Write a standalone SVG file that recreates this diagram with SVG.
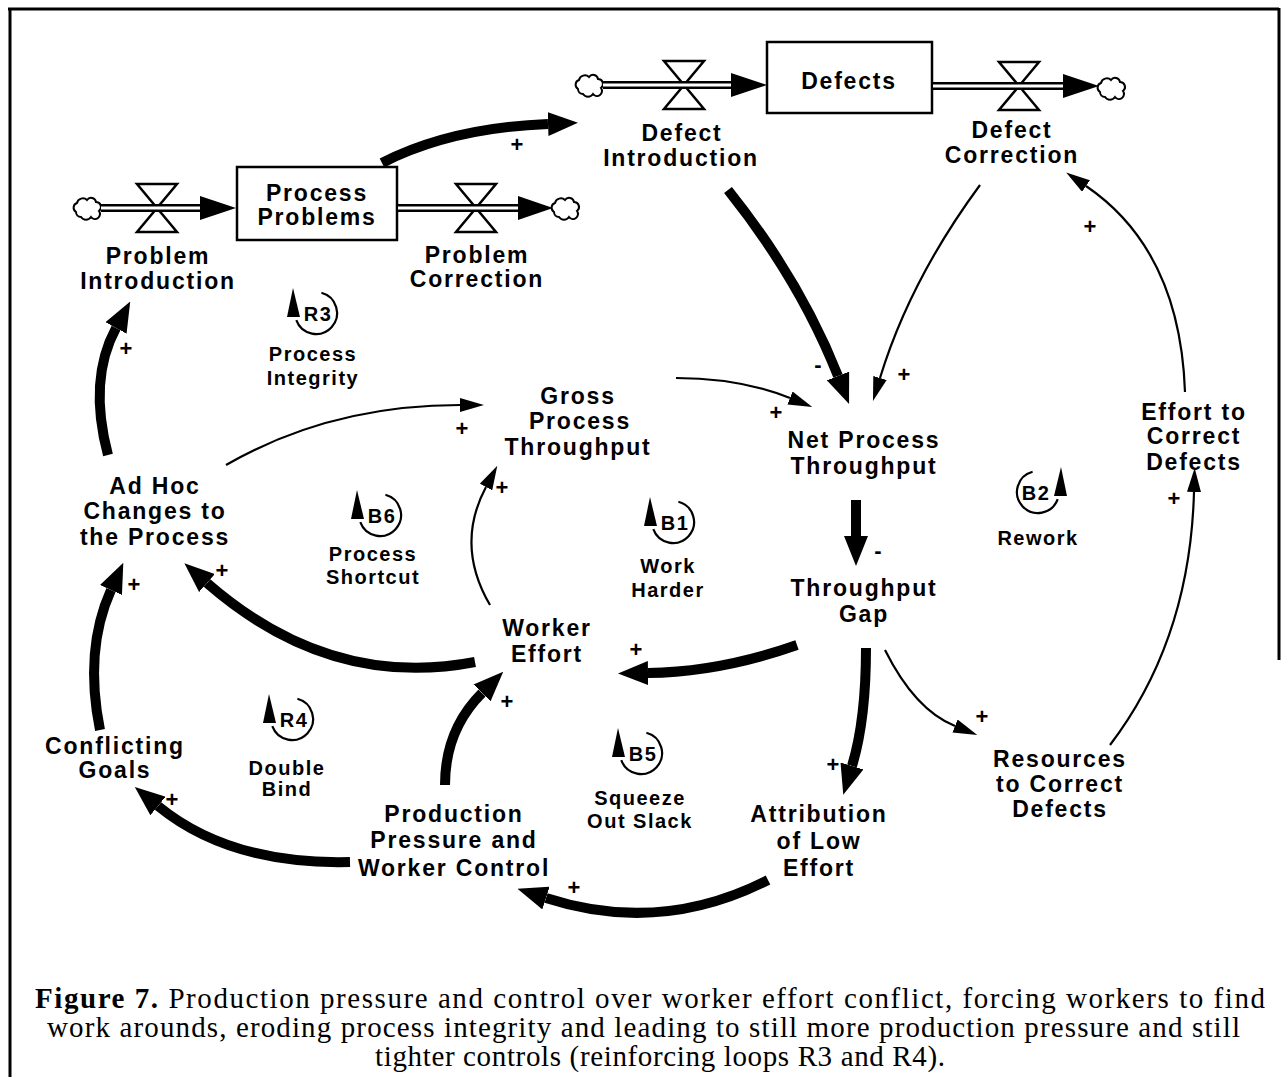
<svg xmlns="http://www.w3.org/2000/svg" width="1281" height="1077" viewBox="0 0 1281 1077">
<defs>
<style>
.n{font-family:"Liberation Sans",Arial,Helvetica,sans-serif;font-weight:bold;font-size:23px;text-anchor:middle;fill:#000;letter-spacing:1.8px}
.lp{font-size:20px;letter-spacing:1.5px}
.sg{font-family:"Liberation Sans",Arial,sans-serif;font-weight:bold;font-size:22px;text-anchor:middle;fill:#000}
.cap{font-family:"Liberation Serif","Times New Roman",serif;font-size:29px;fill:#000}
.thick{fill:none;stroke:#000;stroke-width:10}
.thin{fill:none;stroke:#000;stroke-width:2.2}
.pipeo{fill:none;stroke:#000;stroke-width:8}
.pipei{fill:none;stroke:#fff;stroke-width:3}
.valve{fill:#fff;stroke:#000;stroke-width:2.5}
.box{fill:#fff;stroke:#000;stroke-width:2.5}
.cloud{fill:#fff;stroke:#000;stroke-width:2}
.border{fill:none;stroke:#000;stroke-width:3}
.lc{fill:none;stroke:#000;stroke-width:2.2}
</style>
<marker id="ahT" markerUnits="userSpaceOnUse" viewBox="0 0 30 24" markerWidth="30" markerHeight="24" refX="0" refY="12" orient="auto"><path d="M0,0 L30,12 L0,24 z" fill="#000"/></marker>
<marker id="ahS" markerUnits="userSpaceOnUse" viewBox="0 0 24 14" markerWidth="24" markerHeight="14" refX="0" refY="7" orient="auto"><path d="M0,0 L24,7 L0,14 z" fill="#000"/></marker>
<path id="cloud" class="cloud" d="M-12,4 a5,5 0 0 1 1,-9 a6,6 0 0 1 10,-3 a5,5 0 0 1 9,2 a5,5 0 0 1 3,9 a5,5 0 0 1 -8,6 a6,6 0 0 1 -10,0 a5,5 0 0 1 -5,-5 z"/>
<polygon id="valve" class="valve" points="-20,-24 20,-24 -20,24 20,24"/>
<g id="loop"><path class="lc" d="M5.4,-20.3 A21,21 0 1 1 -19.7,7.2"/><polygon points="-23,-25 -29,4 -16,4" fill="#000"/></g>
</defs>

<g id="frame">
<line class="border" x1="10" y1="8" x2="10" y2="1077"/>
<line class="border" x1="8" y1="9" x2="1279" y2="9"/>
<line class="border" x1="1279" y1="8" x2="1279" y2="660"/>
</g>

<g id="connectors">
<path class="thick" d="M382,163 Q450,128 548,124" marker-end="url(#ahT)"/>
<path class="thick" d="M728,190 Q800,280 838,376" marker-end="url(#ahT)"/>
<path class="thin" d="M980,185 Q910,280 880,378" marker-end="url(#ahS)"/>
<path class="thin" d="M676,378 Q740,378 790,398" marker-end="url(#ahS)"/>
<path class="thin" d="M226,465 Q330,405 460,405" marker-end="url(#ahS)"/>
<path class="thick" d="M108,455 Q88,380 116,328" marker-end="url(#ahT)"/>
<path class="thick" d="M856,500 L856,536" stroke-width="12" marker-end="url(#ahT)"/>
<path class="thick" d="M797,645 Q720,672 648,673" marker-end="url(#ahT)"/>
<path class="thick" d="M866,648 Q866,720 852,766" marker-end="url(#ahT)"/>
<path class="thin" d="M885,650 Q915,710 955,726" marker-end="url(#ahS)"/>
<path class="thin" d="M1110,745 Q1190,640 1194,492" marker-end="url(#ahS)"/>
<path class="thin" d="M1185,392 Q1180,250 1086,186" marker-end="url(#ahS)"/>
<path class="thin" d="M490,605 Q455,545 486,487" marker-end="url(#ahS)"/>
<path class="thick" d="M475,662 Q330,690 207,583" marker-end="url(#ahT)"/>
<path class="thick" d="M445,785 Q445,730 482,693" marker-end="url(#ahT)"/>
<path class="thick" d="M768,880 Q660,935 546,898" marker-end="url(#ahT)"/>
<path class="thick" d="M350,862 Q230,865 158,806" marker-end="url(#ahT)"/>
<path class="thick" d="M100,730 Q84,650 111,590" marker-end="url(#ahT)"/>
<g id="signs">
<text class="sg" x="517" y="152">+</text>
<text class="sg" x="818" y="372">-</text>
<text class="sg" x="904" y="382">+</text>
<text class="sg" x="776" y="420">+</text>
<text class="sg" x="462" y="436">+</text>
<text class="sg" x="126" y="356">+</text>
<text class="sg" x="878" y="558">-</text>
<text class="sg" x="636" y="657">+</text>
<text class="sg" x="833" y="772">+</text>
<text class="sg" x="982" y="724">+</text>
<text class="sg" x="1174" y="506">+</text>
<text class="sg" x="1090" y="234">+</text>
<text class="sg" x="502" y="495">+</text>
<text class="sg" x="222" y="578">+</text>
<text class="sg" x="507" y="709">+</text>
<text class="sg" x="574" y="895">+</text>
<text class="sg" x="172" y="807">+</text>
<text class="sg" x="318" y="869" font-size="14">-</text>
<text class="sg" x="134" y="592">+</text>
</g>
</g>

<g id="problem-introduction">
<use href="#cloud" x="88" y="208"/>
<use href="#valve" x="157" y="208"/>
<line class="pipeo" x1="101" y1="208" x2="202" y2="208"/>
<line class="pipei" x1="101" y1="208" x2="202" y2="208"/>
<polygon points="200,196 236,208 200,220" fill="#000"/>
<text class="n" x="158" y="264">Problem</text>
<text class="n" x="158" y="289">Introduction</text>
</g>
<g id="process-problems">
<rect class="box" x="237" y="167" width="160" height="73"/>
<text class="n" x="317" y="201">Process</text>
<text class="n" x="317" y="225">Problems</text>
</g>
<g id="problem-correction">
<use href="#valve" x="476" y="208"/>
<line class="pipeo" x1="398" y1="208" x2="522" y2="208"/>
<line class="pipei" x1="398" y1="208" x2="522" y2="208"/>
<polygon points="518,196 553,208 518,220" fill="#000"/>
<use href="#cloud" x="566" y="208"/>
<text class="n" x="477" y="263">Problem</text>
<text class="n" x="477" y="287">Correction</text>
</g>

<g id="defect-introduction">
<use href="#cloud" x="590" y="85"/>
<use href="#valve" x="684" y="85"/>
<line class="pipeo" x1="603" y1="85" x2="734" y2="85"/>
<line class="pipei" x1="603" y1="85" x2="734" y2="85"/>
<polygon points="731,73 767,85 731,97" fill="#000"/>
<text class="n" x="682" y="141">Defect</text>
<text class="n" x="681" y="166">Introduction</text>
</g>
<g id="defects">
<rect class="box" x="767" y="42" width="165" height="71"/>
<text class="n" x="849" y="89">Defects</text>
</g>
<g id="defect-correction">
<use href="#valve" x="1019" y="86"/>
<line class="pipeo" x1="933" y1="86" x2="1066" y2="86"/>
<line class="pipei" x1="933" y1="86" x2="1066" y2="86"/>
<polygon points="1063,74 1099,86 1063,98" fill="#000"/>
<use href="#cloud" x="1112" y="88"/>
<text class="n" x="1012" y="138">Defect</text>
<text class="n" x="1012" y="163">Correction</text>
</g>

<g id="gross-process-throughput">
<text class="n" x="578" y="404">Gross</text>
<text class="n" x="580" y="429">Process</text>
<text class="n" x="578" y="455">Throughput</text>
</g>
<g id="net-process-throughput">
<text class="n" x="864" y="448">Net Process</text>
<text class="n" x="864" y="474">Throughput</text>
</g>
<g id="ad-hoc-changes">
<text class="n" x="155" y="494">Ad Hoc</text>
<text class="n" x="155" y="519">Changes to</text>
<text class="n" x="155" y="545">the Process</text>
</g>
<g id="throughput-gap">
<text class="n" x="864" y="596">Throughput</text>
<text class="n" x="864" y="622">Gap</text>
</g>
<g id="worker-effort">
<text class="n" x="547" y="636">Worker</text>
<text class="n" x="547" y="662">Effort</text>
</g>
<g id="effort-to-correct-defects">
<text class="n" x="1194" y="420">Effort to</text>
<text class="n" x="1194" y="444">Correct</text>
<text class="n" x="1194" y="470">Defects</text>
</g>
<g id="resources-to-correct-defects">
<text class="n" x="1060" y="767">Resources</text>
<text class="n" x="1060" y="792">to Correct</text>
<text class="n" x="1060" y="817">Defects</text>
</g>
<g id="conflicting-goals">
<text class="n" x="115" y="754">Conflicting</text>
<text class="n" x="115" y="778">Goals</text>
</g>
<g id="production-pressure">
<text class="n" x="454" y="822">Production</text>
<text class="n" x="454" y="848">Pressure and</text>
<text class="n" x="454" y="876">Worker Control</text>
</g>
<g id="attribution-of-low-effort">
<text class="n" x="819" y="822">Attribution</text>
<text class="n" x="819" y="849">of Low</text>
<text class="n" x="819" y="876">Effort</text>
</g>

<g id="loop-R3">
<use href="#loop" x="316" y="313"/>
<text class="n lp" x="318" y="321">R3</text>
<text class="n lp" x="313" y="361">Process</text>
<text class="n lp" x="313" y="385">Integrity</text>
</g>
<g id="loop-B6">
<use href="#loop" x="380" y="515"/>
<text class="n lp" x="382" y="523">B6</text>
<text class="n lp" x="373" y="561">Process</text>
<text class="n lp" x="373" y="584">Shortcut</text>
</g>
<g id="loop-B1">
<use href="#loop" x="673" y="522"/>
<text class="n lp" x="675" y="530">B1</text>
<text class="n lp" x="668" y="573">Work</text>
<text class="n lp" x="668" y="597">Harder</text>
</g>
<g id="loop-B2">
<use href="#loop" transform="translate(1038,492) scale(-1,1)"/>
<text class="n lp" x="1036" y="500">B2</text>
<text class="n lp" x="1038" y="545">Rework</text>
</g>
<g id="loop-R4">
<use href="#loop" x="292" y="719"/>
<text class="n lp" x="294" y="727">R4</text>
<text class="n lp" x="287" y="775">Double</text>
<text class="n lp" x="287" y="796">Bind</text>
</g>
<g id="loop-B5">
<use href="#loop" x="641" y="753"/>
<text class="n lp" x="643" y="761">B5</text>
<text class="n lp" x="640" y="805">Squeeze</text>
<text class="n lp" x="640" y="828">Out Slack</text>
</g>

<g id="caption">
<text class="cap" x="35" y="1008" textLength="1230" lengthAdjust="spacing"><tspan font-weight="bold">Figure 7.</tspan>  Production pressure and control over worker effort conflict, forcing workers to find</text>
<text class="cap" x="47" y="1037" textLength="1193" lengthAdjust="spacing">work arounds, eroding process integrity and leading to still more production pressure and still</text>
<text class="cap" x="375" y="1066" textLength="570" lengthAdjust="spacing">tighter controls (reinforcing loops R3 and R4).</text>
</g>
</svg>
